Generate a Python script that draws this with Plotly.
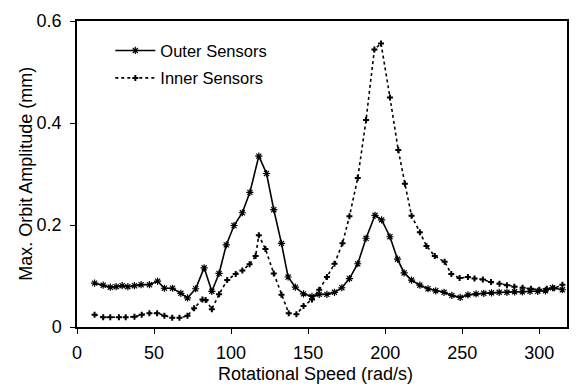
import plotly.graph_objects as go

outer_x = [11.4, 17, 21.6, 25.4, 29.3, 33, 37.3, 41.6, 47, 52.3, 56.7, 62, 67.4, 71.7, 77, 82.5, 87.5,
           92.2, 96.9, 101.9, 107.3, 112.2, 118, 123, 127.7, 132.7, 137, 141.7, 147, 152.5, 157.2, 162.2,
           167.1, 171.9, 176.8, 182.2, 187.6, 193.4, 197.7, 203.1, 208, 212.3, 217.1, 222.5, 227.8, 232.8,
           238.2, 243.3, 248.7, 253.7, 259, 264, 269, 274, 279, 284, 289, 294, 299, 304, 308.6, 315]
outer_y = [0.086, 0.082, 0.078, 0.079, 0.081, 0.079, 0.081, 0.083, 0.083, 0.090, 0.076, 0.076, 0.066,
           0.057, 0.075, 0.116, 0.070, 0.105, 0.161, 0.199, 0.224, 0.264, 0.335, 0.301, 0.230, 0.164,
           0.098, 0.078, 0.065, 0.060, 0.064, 0.064, 0.068, 0.077, 0.095, 0.124, 0.174, 0.219, 0.210,
           0.177, 0.133, 0.106, 0.092, 0.082, 0.075, 0.071, 0.068, 0.062, 0.058, 0.063, 0.065, 0.066,
           0.067, 0.068, 0.068, 0.069, 0.069, 0.070, 0.070, 0.071, 0.077, 0.073]

inner_x = [11.4, 17, 21.6, 27.2, 31.6, 37.3, 42, 47, 52, 56.7, 61.8, 66.5, 71.7, 76, 81.4, 83.5, 87.5,
           92.2, 97.5, 103, 107.3, 112, 115.9, 118, 122.3, 127.7, 132.7, 137.4, 142.4, 147, 152.5, 157.2,
           162.2, 167.1, 172.3, 176.8, 182.2, 187.6, 193, 197.3, 203.1, 208.5, 212.8, 217.1, 222.5, 226.8,
           232.2, 238.6, 242.9, 248.3, 253.7, 258, 263.4, 268.7, 274.2, 279, 283.8, 289.2, 294.6, 300,
           304.9, 309.7, 315]
inner_y = [0.024, 0.019, 0.019, 0.019, 0.019, 0.020, 0.024, 0.027, 0.027, 0.022, 0.018, 0.018, 0.022,
           0.037, 0.054, 0.053, 0.035, 0.064, 0.092, 0.104, 0.111, 0.123, 0.139, 0.180, 0.153, 0.105,
           0.063, 0.027, 0.025, 0.041, 0.054, 0.073, 0.098, 0.124, 0.164, 0.217, 0.292, 0.406, 0.544,
           0.556, 0.450, 0.347, 0.281, 0.218, 0.186, 0.159, 0.139, 0.128, 0.104, 0.096, 0.098, 0.095,
           0.093, 0.088, 0.085, 0.082, 0.079, 0.077, 0.075, 0.073, 0.075, 0.076, 0.083]

x_ticks = [0, 50, 100, 150, 200, 250, 300]
y_ticks = [0, 0.2, 0.4, 0.6]
y_labels = ["0", "0.2", "0.4", "0.6"]
x_title = "Rotational Speed (rad/s)"
y_title = "Max. Orbit Amplitude (mm)"

FONT = "Liberation Sans, Arial, sans-serif"

fig = go.Figure()
fig.add_trace(go.Scatter(
    x=outer_x, y=outer_y, name="Outer Sensors", mode="lines+markers", legendgroup="a",
    line=dict(color="black", width=1.6),
    marker=dict(symbol="asterisk-open", size=6, color="black", line=dict(width=1.2, color="black")),
))
fig.add_trace(go.Scatter(
    x=inner_x, y=inner_y, name="Inner Sensors", mode="lines+markers", legendgroup="b",
    line=dict(color="black", width=1.6, dash="dot"),
    marker=dict(symbol="cross", size=5, color="black"),
))

fig.update_layout(
    width=580, height=392,
    margin=dict(l=77, r=11, t=12, b=65),
    paper_bgcolor="white", plot_bgcolor="white",
    font=dict(family=FONT, color="black", size=18),
    showlegend=True,
    legend=dict(x=0.068, y=0.96, xanchor="left", yanchor="top", bgcolor="rgba(0,0,0,0)",
                font=dict(size=16.5, family=FONT, color="black"), itemwidth=40,
                traceorder="grouped", tracegroupgap=3),
    xaxis=dict(range=[0, 318], tickvals=x_ticks, ticks="outside", ticklen=5, tickwidth=1.2,
               tickcolor="black", showline=True, linecolor="black", linewidth=1.5, mirror=True,
               showgrid=False, zeroline=False, tickfont=dict(size=18), ticklabelstandoff=4),
    yaxis=dict(range=[0, 0.6], tickvals=y_ticks, ticktext=y_labels, ticks="outside", ticklen=5,
               tickwidth=1.2, tickcolor="black", showline=True, linecolor="black", linewidth=1.5,
               mirror=True, showgrid=False, zeroline=False, tickfont=dict(size=18),
               ticklabelstandoff=5),
    annotations=[
        dict(text=x_title, xref="paper", yref="paper", x=0.487, y=-0.153,
             xanchor="center", yanchor="middle", showarrow=False, font=dict(size=18)),
        dict(text=y_title, xref="paper", yref="paper", x=-0.1057, y=0.5016,
             xanchor="center", yanchor="middle", showarrow=False, textangle=-90,
             font=dict(size=18)),
    ],
)

fig.write_html("out.html")
